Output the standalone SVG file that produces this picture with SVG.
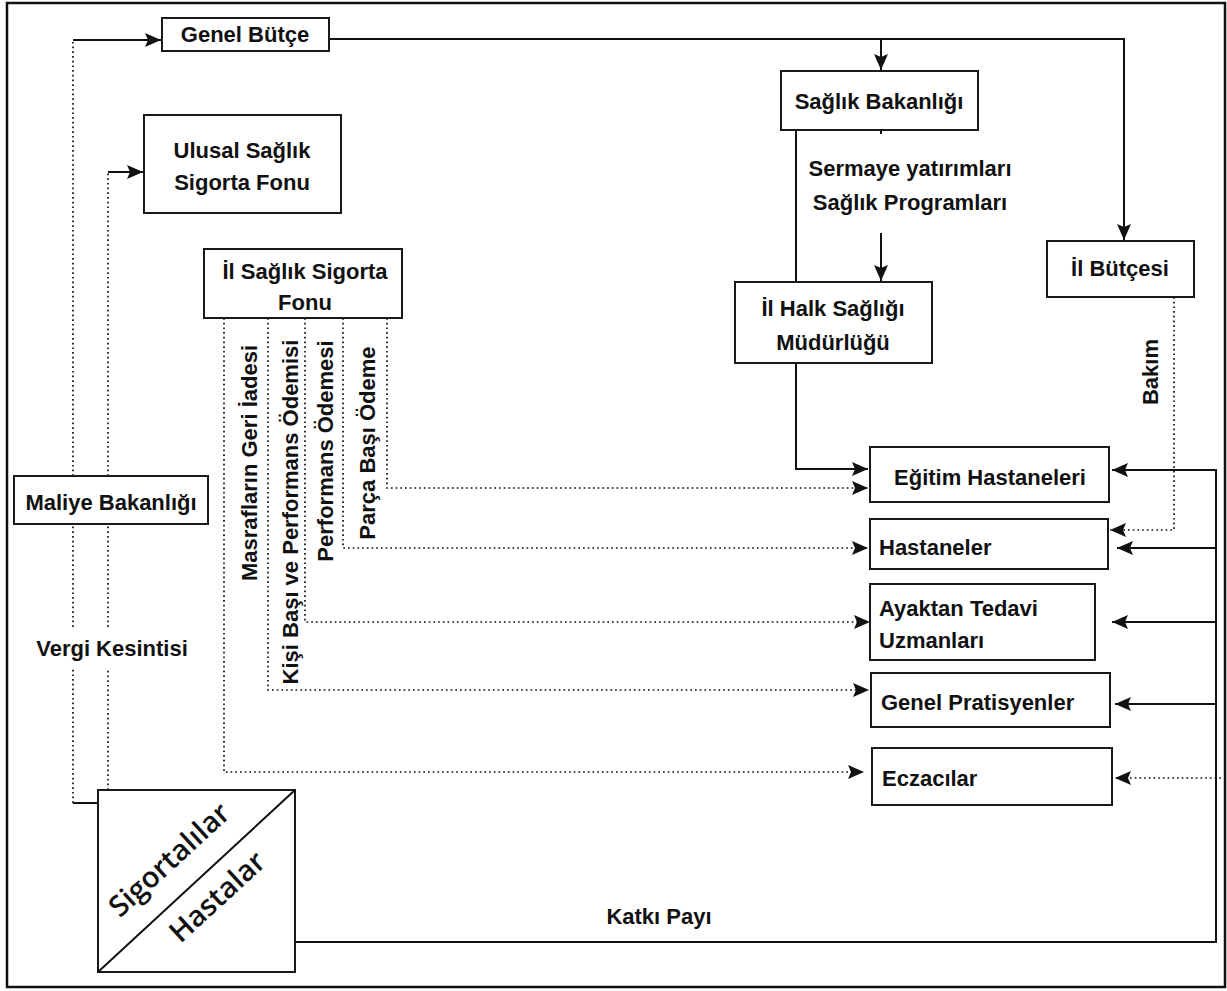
<svg xmlns="http://www.w3.org/2000/svg" width="1227" height="991" viewBox="0 0 1227 991">
<style>
.box{fill:#fff;stroke:#1a1a1a;stroke-width:2}
.t{font-family:"Liberation Sans",Arial,sans-serif;font-weight:bold;font-size:22px;fill:#111}
.c{text-anchor:middle}
.s{fill:none;stroke:#111;stroke-width:2}
.d{fill:none;stroke:#111;stroke-width:1.7;stroke-dasharray:1.7 3}
.diag{font-family:"Open Sans","Liberation Sans",sans-serif;font-weight:600;font-size:29px;fill:#111;text-anchor:middle}
</style>
<defs>
<marker id="ah" markerUnits="userSpaceOnUse" markerWidth="16" markerHeight="14" viewBox="0 0 16 14" refX="16" refY="7" orient="auto">
<path d="M0,0 L16,7 L0,14 L3,7 Z" fill="#111"/>
</marker>
</defs>
<rect x="7" y="3" width="1218" height="984" fill="#fff" stroke="#111" stroke-width="2.5"/>

<g id="connectors">
<!-- Maliye -> Genel Bütçe -->
<path class="d" d="M73,803 V668 M73,627 V524 M73,476 V40"/>
<path class="s" d="M73,40 H161" marker-end="url(#ah)"/>
<path class="s" d="M73,803 H98"/>
<!-- -> Ulusal -->
<path class="d" d="M108,790 V668 M108,627 V524 M108,476 V172"/>
<path class="s" d="M108,172 H143" marker-end="url(#ah)"/>
<!-- Genel Bütçe -> right -->
<path class="s" d="M329,39 H1124 V240" marker-end="url(#ah)"/>
<path class="s" d="M881,39 V70" marker-end="url(#ah)"/>
<path class="s" d="M881,130 V134"/>
<path class="s" d="M796,130 V282"/>
<path class="s" d="M881,233 V281" marker-end="url(#ah)"/>
<path class="s" d="M796,363 V469 H868" marker-end="url(#ah)"/>
<!-- Bakım -->
<path class="d" d="M1174,297 V530 H1110" marker-end="url(#ah)"/>
<!-- Katkı Payı -->
<path class="s" d="M295,942 H1216 V470 H1112" marker-end="url(#ah)"/>
<path class="s" d="M1216,548 H1117" marker-end="url(#ah)"/>
<path class="s" d="M1216,622 H1112" marker-end="url(#ah)"/>
<path class="s" d="M1216,704 H1115" marker-end="url(#ah)"/>
<path class="d" d="M1221,778 H1115" marker-end="url(#ah)"/>
<!-- İl Sağlık Sigorta Fonu payments -->
<path class="d" d="M387,318 V488 H868" marker-end="url(#ah)"/>
<path class="d" d="M343,318 V548 H868" marker-end="url(#ah)"/>
<path class="d" d="M305,318 V622 H870" marker-end="url(#ah)"/>
<path class="d" d="M268,318 V690 H869" marker-end="url(#ah)"/>
<path class="d" d="M224,318 V772 H864" marker-end="url(#ah)"/>
</g>

<g id="labels">
<text class="t c" x="910" y="176">Sermaye yatırımları</text>
<text class="t c" x="910" y="210">Sağlık Programları</text>
<text class="t c" x="112" y="656">Vergi Kesintisi</text>
<text class="t c" x="659" y="924">Katkı Payı</text>
<text class="t c" transform="rotate(-90 1158 372)" x="1158" y="372">Bakım</text>
<text class="t c" transform="rotate(-90 257 463)" x="257" y="463">Masrafların Geri İadesi</text>
<text class="t c" transform="rotate(-90 298 512)" x="298" y="512">Kişi Başı ve Performans Ödemisi</text>
<text class="t c" transform="rotate(-90 333 451)" x="333" y="451">Performans Ödemesi</text>
<text class="t c" transform="rotate(-90 375 443)" x="375" y="443">Parça Başı Ödeme</text>
</g>

<g id="genel-butce">
<rect class="box" x="162" y="18" width="167" height="33"/>
<text class="t c" x="245" y="42">Genel Bütçe</text>
</g>
<g id="ulusal-saglik-sigorta-fonu">
<rect class="box" x="144" y="115" width="197" height="98"/>
<text class="t c" x="242" y="158">Ulusal Sağlık</text>
<text class="t c" x="242" y="190">Sigorta Fonu</text>
</g>
<g id="saglik-bakanligi">
<rect class="box" x="781" y="71" width="197" height="59"/>
<text class="t c" x="879" y="109">Sağlık Bakanlığı</text>
</g>
<g id="il-halk-sagligi">
<rect class="box" x="735" y="282" width="197" height="81"/>
<text class="t c" x="833" y="316">İl Halk Sağlığı</text>
<text class="t c" x="833" y="350">Müdürlüğü</text>
</g>
<g id="il-butcesi">
<rect class="box" x="1047" y="241" width="147" height="56"/>
<text class="t c" x="1120" y="276">İl Bütçesi</text>
</g>
<g id="il-saglik-sigorta-fonu">
<rect class="box" x="204" y="249" width="198" height="69"/>
<text class="t c" x="305" y="279">İl Sağlık Sigorta</text>
<text class="t c" x="305" y="310">Fonu</text>
</g>
<g id="maliye-bakanligi">
<rect class="box" x="14" y="476" width="194" height="48"/>
<text class="t c" x="111" y="510">Maliye Bakanlığı</text>
</g>
<g id="egitim-hastaneleri">
<rect class="box" x="870" y="447" width="239" height="55"/>
<text class="t c" x="990" y="485">Eğitim Hastaneleri</text>
</g>
<g id="hastaneler">
<rect class="box" x="870" y="519" width="238" height="50"/>
<text class="t" x="879" y="555">Hastaneler</text>
</g>
<g id="ayaktan-tedavi">
<rect class="box" x="870" y="584" width="225" height="76"/>
<text class="t" x="879" y="616">Ayaktan Tedavi</text>
<text class="t" x="879" y="648">Uzmanları</text>
</g>
<g id="genel-pratisyenler">
<rect class="box" x="871" y="673" width="239" height="54"/>
<text class="t" x="881" y="710">Genel Pratisyenler</text>
</g>
<g id="eczacilar">
<rect class="box" x="872" y="748" width="240" height="57"/>
<text class="t" x="882" y="786">Eczacılar</text>
</g>
<g id="sigortalilar-hastalar">
<rect class="box" x="98" y="790" width="197" height="182"/>
<line x1="98" y1="972" x2="295" y2="790" stroke="#111" stroke-width="2"/>
<text class="diag" transform="rotate(-42.6 176 867)" x="176" y="867">Sigortalılar</text>
<text class="diag" transform="rotate(-42.6 224 904)" x="224" y="904">Hastalar</text>
</g>
</svg>
